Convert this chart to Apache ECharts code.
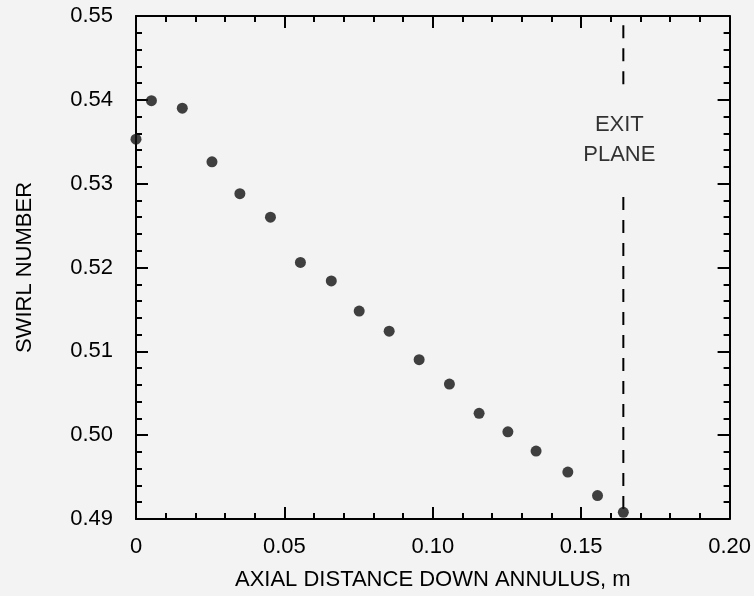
<!DOCTYPE html>
<html>
<head>
<meta charset="utf-8">
<script src="https://cdn.jsdelivr.net/npm/echarts@6/dist/echarts.min.js"></script>
<style>
  html, body { margin: 0; padding: 0; background: #f3f3f3; }
  #chart { width: 754px; height: 596px; }
</style>
</head>
<body>
<div id="chart"></div>
<script>
// axial distance down annulus (m) and swirl number
const distance = [0, 0.0052, 0.0156, 0.0256, 0.0350, 0.0453, 0.0554, 0.0658, 0.0752,
  0.0853, 0.0954, 0.1056, 0.1156, 0.1253, 0.1348, 0.1455, 0.1555, 0.1642]
const swirl = [0.5353, 0.5399, 0.5390, 0.5326, 0.5288, 0.5260, 0.5206, 0.5184, 0.5148,
  0.5124, 0.5090, 0.5061, 0.5026, 0.5004, 0.4981, 0.4956, 0.4928, 0.4908]

// exit plane marker: x position, dashed pieces above and below the label
const exitPlaneX = 0.1642
const exitUpper = [0.5489, 0.5418]
const exitLower = [0.5284, 0.49]
const exitLabelY = 0.5352
const exitLabel = 'EXIT\nPLANE'

const xTicks = [0, 0.05, 0.10, 0.15, 0.20]
const yTicks = [0.49, 0.50, 0.51, 0.52, 0.53, 0.54, 0.55]

const ink = '#000'
const font = '"Liberation Sans", Arial, sans-serif'

const chart = echarts.init(document.getElementById('chart'))

const baseAxis = {
  type: 'value',
  axisLine: { show: true, onZero: false, lineStyle: { color: ink, width: 2 } },
  axisTick: { show: true, inside: true, length: 12, lineStyle: { color: ink, width: 2 } },
  minorTick: { show: true, splitNumber: 5, length: 6, lineStyle: { color: ink, width: 2 } },
  splitLine: { show: false },
  minorSplitLine: { show: false },
}

const xAxisCommon = {
  ...baseAxis,
  min: xTicks[0],
  max: xTicks[xTicks.length - 1],
  interval: 0.05,
}
const yAxisCommon = {
  ...baseAxis,
  min: yTicks[0],
  max: yTicks[yTicks.length - 1],
  interval: 0.01,
}

const dashStyle = { color: ink, width: 2, type: [13, 10] }

chart.setOption({
  backgroundColor: '#f3f3f3',
  animation: false,
  textStyle: { fontFamily: font },
  grid: { left: 136, right: 21, top: 16, bottom: 72 },
  xAxis: [
    {
      ...xAxisCommon,
      position: 'bottom',
      name: 'AXIAL DISTANCE DOWN ANNULUS, m',
      nameLocation: 'middle',
      nameGap: 50,
      nameTextStyle: { color: ink, fontSize: 22, fontFamily: font },
      axisLabel: {
        color: ink, fontSize: 22, margin: 17, fontFamily: font,
        formatter: (v) => (v === 0 ? '0' : v.toFixed(2)),
      },
    },
    { ...xAxisCommon, position: 'top', axisLabel: { show: false } },
  ],
  yAxis: [
    {
      ...yAxisCommon,
      position: 'left',
      name: 'SWIRL NUMBER',
      nameLocation: 'middle',
      nameGap: 100,
      nameTextStyle: { color: ink, fontSize: 22, fontFamily: font },
      axisLabel: {
        color: ink, fontSize: 22, margin: 23, fontFamily: font,
        formatter: (v) => v.toFixed(2),
      },
    },
    { ...yAxisCommon, position: 'right', axisLabel: { show: false } },
  ],
  series: [
    {
      type: 'scatter',
      data: distance.map((d, i) => [d, swirl[i]]),
      symbol: 'circle',
      symbolSize: 11,
      clip: false,
      z: 5,
      itemStyle: { color: '#111' },
    },
    {
      type: 'line',
      data: exitUpper.map((y) => [exitPlaneX, y]),
      symbol: 'none',
      lineStyle: dashStyle,
    },
    {
      type: 'line',
      data: exitLower.map((y) => [exitPlaneX, y]),
      symbol: 'none',
      lineStyle: dashStyle,
    },
    {
      type: 'scatter',
      data: [[exitPlaneX, exitLabelY]],
      symbolSize: 0,
      silent: true,
      label: {
        show: true,
        position: 'inside',
        offset: [-4, 0],
        formatter: exitLabel,
        color: ink,
        fontSize: 22,
        lineHeight: 30,
        align: 'center',
        fontFamily: font,
      },
    },
  ],
})
</script>
</body>
</html>
